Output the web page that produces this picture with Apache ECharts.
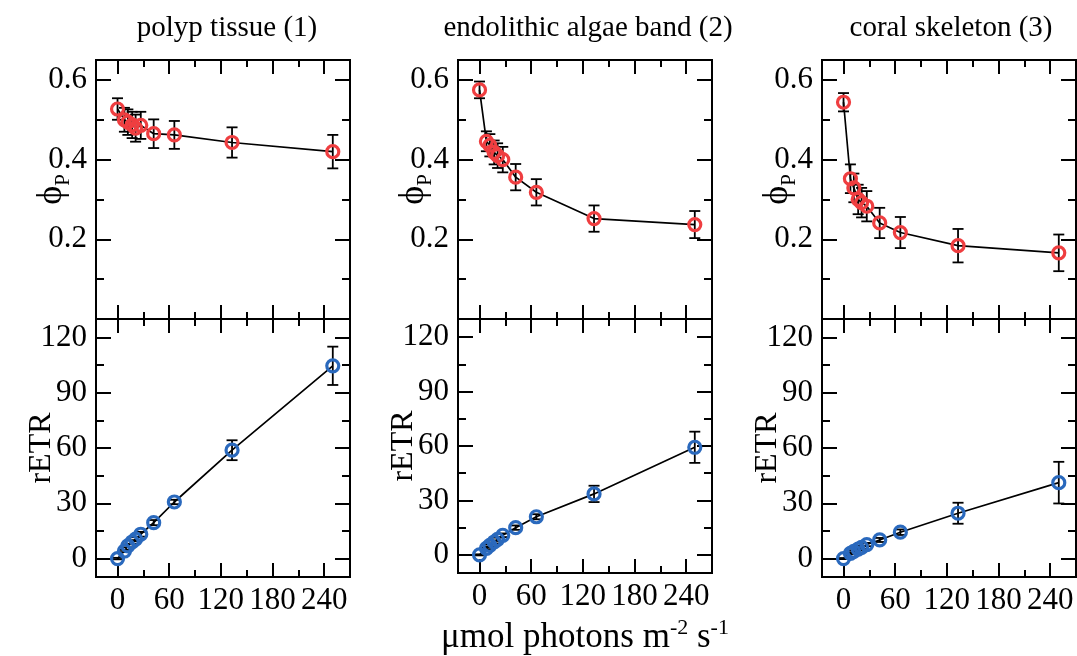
<!DOCTYPE html>
<html>
<head>
<meta charset="utf-8">
<script src="https://cdn.jsdelivr.net/npm/echarts@6/dist/echarts.min.js"></script>
<style>
  html, body { margin: 0; padding: 0; background: #fff; }
  #main { width: 1077px; height: 656px; }
</style>
</head>
<body>
<div id="main"></div>
<script>
// light steps (µmol photons m-2 s-1)
var par = [0, 8, 12, 17, 21, 27, 42, 66, 133, 250]

// effective quantum yield
var phiPolyp = [0.527, 0.500, 0.494, 0.487, 0.479, 0.486, 0.465, 0.462, 0.443, 0.420]
var phiPolypErr = [0.027, 0.030, 0.032, 0.033, 0.034, 0.034, 0.036, 0.035, 0.038, 0.042]
var phiAlgae = [0.575, 0.446, 0.436, 0.418, 0.410, 0.400, 0.356, 0.318, 0.252, 0.237]
var phiAlgaeErr = [0.021, 0.025, 0.028, 0.030, 0.031, 0.032, 0.033, 0.033, 0.033, 0.034]
var phiSkel = [0.544, 0.352, 0.329, 0.300, 0.292, 0.283, 0.241, 0.217, 0.184, 0.166]
var phiSkelErr = [0.023, 0.036, 0.036, 0.037, 0.037, 0.038, 0.038, 0.039, 0.042, 0.046]

// relative electron transport rate
var etrPolyp = [0, 4.1, 6.9, 9.0, 10.5, 13.2, 19.5, 30.7, 58.8, 104.6]
var etrPolypErr = [0.4, 0.6, 0.8, 1.0, 1.1, 1.3, 1.4, 1.2, 5.4, 10.4]
var etrAlgae = [0, 3.6, 5.2, 7.1, 8.6, 10.8, 15.0, 21.0, 33.6, 59.3]
var etrAlgaeErr = [0.3, 0.5, 0.6, 0.8, 0.9, 1.0, 1.2, 1.4, 4.5, 8.6]
var etrSkel = [0, 2.8, 3.9, 5.1, 6.1, 7.6, 10.1, 14.3, 24.6, 41.2]
var etrSkelErr = [0.3, 0.5, 0.6, 0.7, 0.8, 0.9, 1.1, 1.5, 5.7, 11.3]

// ticks
var xMajor = [0, 60, 120, 180, 240]
var xMinor = [30, 90, 150, 210]
var phiMajor = [0.2, 0.4, 0.6]
var phiMinor = [0.1, 0.3, 0.5]
var etrMajor = [0, 30, 60, 90, 120]
var etrMinor = [15, 45, 75, 105]

var titles = ['polyp tissue (1)', 'endolithic algae band (2)', 'coral skeleton (3)']

var myChart = echarts.init(document.getElementById('main'))

var FONT = 'Liberation Serif'
var RED = '#ef3e40'
var BLUE = '#2a69bd'
var lefts = [96, 458, 822]
var titleX = [227, 588, 951]

var grids = []
var xAxes = []
var yAxes = []
var series = []
var graphics = []

function tick (values, len) {
  return { show: true, inside: true, length: len, customValues: values, lineStyle: { color: '#000', width: 2 } }
}

function addPanel (col, row, vals, errs, color) {
  var gi = grids.length
  var top = row === 0
  grids.push({
    left: lefts[col], width: 254,
    top: top ? 60 : 319, height: top ? 259 : 258,
    show: true, borderColor: '#000', borderWidth: 2, backgroundColor: 'transparent'
  })
  var yMin = top ? 0 : -10
  var yMax = top ? 0.65 : 130
  var yMaj = top ? phiMajor : etrMajor
  var yMin2 = top ? phiMinor : etrMinor

  var xb = { gridIndex: gi, type: 'value', min: -25, max: 270, axisLine: { show: false, onZero: false }, splitLine: { show: false } }
  var label = { show: false }
  if (!top) {
    label = { show: true, customValues: xMajor, margin: 8, color: '#000', fontFamily: FONT, fontSize: 31 }
  }
  var main = Object.assign({}, xb, { position: 'bottom', axisTick: tick(xMajor, 14), axisLabel: label })
  if (!top && col === 1) {
    main.name = '{t|μmol photons m}{s|-2}{t| s}{s|-1}'
    main.nameLocation = 'middle'
    main.nameGap = 44
    main.nameMoveOverlap = false
    main.nameTextStyle = {
      color: '#000', fontFamily: FONT, lineHeight: 38,
      rich: {
        t: { fontFamily: FONT, fontSize: 35, color: '#000', lineHeight: 38, verticalAlign: 'bottom' },
        s: { fontFamily: FONT, fontSize: 22, color: '#000', lineHeight: 38, verticalAlign: 'top' }
      }
    }
  }
  xAxes.push(main)
  xAxes.push(Object.assign({}, xb, { position: 'bottom', axisTick: tick(xMinor, 7), axisLabel: { show: false } }))
  xAxes.push(Object.assign({}, xb, { position: 'top', axisTick: tick(xMajor, 14), axisLabel: { show: false } }))
  xAxes.push(Object.assign({}, xb, { position: 'top', axisTick: tick(xMinor, 7), axisLabel: { show: false } }))

  var yb = { gridIndex: gi, type: 'value', min: yMin, max: yMax, axisLine: { show: false, onZero: false }, splitLine: { show: false } }
  var ymain = Object.assign({}, yb, {
    position: 'left',
    axisTick: tick(yMaj, 15),
    axisLabel: { show: true, customValues: yMaj, margin: 9, color: '#000', fontFamily: FONT, fontSize: 31 },
    nameLocation: 'middle',
    nameRotate: 90,
    nameMoveOverlap: false,
    nameGap: top ? 22 : 38
  })
  if (top) {
    ymain.name = '{a|ϕ}{b|P}'
    ymain.nameTextStyle = {
      color: '#000', fontFamily: FONT, lineHeight: 40,
      rich: {
        a: { fontFamily: FONT, fontSize: 36, color: '#000', lineHeight: 40, verticalAlign: 'top' },
        b: { fontFamily: FONT, fontSize: 21, color: '#000', lineHeight: 40, verticalAlign: 'bottom' }
      }
    }
  } else {
    ymain.name = 'rETR'
    ymain.nameTextStyle = { color: '#000', fontFamily: FONT, fontSize: 32 }
  }
  yAxes.push(ymain)
  yAxes.push(Object.assign({}, yb, { position: 'left', axisTick: tick(yMin2, 8), axisLabel: { show: false } }))
  yAxes.push(Object.assign({}, yb, { position: 'right', axisTick: tick(yMaj, 15), axisLabel: { show: false } }))
  yAxes.push(Object.assign({}, yb, { position: 'right', axisTick: tick(yMin2, 8), axisLabel: { show: false } }))

  var ai = gi * 4
  series.push({
    type: 'custom',
    xAxisIndex: ai,
    yAxisIndex: ai,
    z: 2,
    data: par.map(function (x, i) { return [x, vals[i] - errs[i], vals[i] + errs[i]] }),
    renderItem: function (params, api) {
      var x = api.value(0)
      var lo = api.coord([x, api.value(1)])
      var hi = api.coord([x, api.value(2)])
      var w = 5.5
      var st = { stroke: '#000', lineWidth: 1.8 }
      return {
        type: 'group',
        children: [
          { type: 'line', shape: { x1: lo[0], y1: lo[1], x2: hi[0], y2: hi[1] }, style: st },
          { type: 'line', shape: { x1: lo[0] - w, y1: lo[1], x2: lo[0] + w, y2: lo[1] }, style: st },
          { type: 'line', shape: { x1: hi[0] - w, y1: hi[1], x2: hi[0] + w, y2: hi[1] }, style: st }
        ]
      }
    }
  })
  series.push({
    type: 'line',
    xAxisIndex: ai,
    yAxisIndex: ai,
    z: 3,
    data: par.map(function (x, i) { return [x, vals[i]] }),
    symbol: 'circle',
    symbolSize: 12,
    showSymbol: true,
    lineStyle: { color: '#000', width: 1.7 },
    itemStyle: { color: 'rgba(0,0,0,0)', borderColor: color, borderWidth: 3.2 }
  })
}

addPanel(0, 0, phiPolyp, phiPolypErr, RED)
addPanel(0, 1, etrPolyp, etrPolypErr, BLUE)
addPanel(1, 0, phiAlgae, phiAlgaeErr, RED)
addPanel(1, 1, etrAlgae, etrAlgaeErr, BLUE)
addPanel(2, 0, phiSkel, phiSkelErr, RED)
addPanel(2, 1, etrSkel, etrSkelErr, BLUE)

titles.forEach(function (t, i) {
  graphics.push({
    type: 'text',
    x: titleX[i],
    y: 28,
    style: { text: t, font: '29px "Liberation Serif"', fill: '#000', align: 'center', verticalAlign: 'middle' }
  })
})

var option = {
  animation: false,
  grid: grids,
  xAxis: xAxes,
  yAxis: yAxes,
  series: series,
  graphic: graphics
}

myChart.setOption(option)
</script>
</body>
</html>
